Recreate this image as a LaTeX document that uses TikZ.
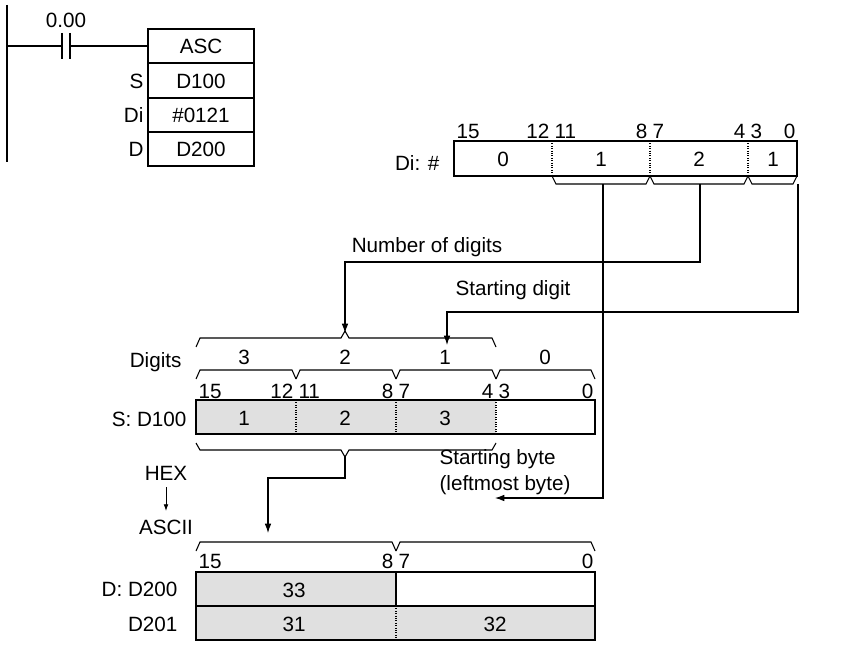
\documentclass[tikz,border=0pt]{standalone}
\usepackage{fontspec}
\setmainfont{Liberation Sans}
\usetikzlibrary{arrows.meta}
\begin{document}
\begin{tikzpicture}[x=0.75pt,y=-0.75pt,line width=0.8pt,
  t/.style={inner sep=0pt,font=\fontsize{15.5}{18}\selectfont},
  cell/.style={draw,line width=0.9pt},
  dv/.style={densely dotted,line width=0.8pt},
  gr/.style={fill=black!12},
  arr/.style={-{Latex[length=7pt,width=5pt]}},
  br/.style={line width=0.8pt}]
\useasboundingbox (0,0) rectangle (853,645);
% ladder
\draw[line width=1pt] (7,5) -- (7,162);
\draw (7,46) -- (62,46) (70,46) -- (148,46);
\draw[line width=1pt] (62,33) -- (62,59) (70,33) -- (70,59);
\node[t] (c0) at (66,20) {0.00};
\draw[cell] (148,29) rectangle (254,63) (148,63) rectangle (254,98) (148,98) rectangle (254,132) (148,132) rectangle (254,166);
\node[t] (asc) at (201,46) {ASC};
\node[t] (s1) at (201,81) {D100};
\node[t] (s2) at (201,115) {\#0121};
\node[t] (s3) at (201,149) {D200};
\node[t,anchor=east] (l1) at (144,81) {S};
\node[t,anchor=east] (l2) at (144,115) {Di};
\node[t,anchor=east] (l3) at (144,149) {D};
% Di box
\draw[cell] (454,141) rectangle (797,176);
\draw[dv] (552,141)--(552,176) (650,141)--(650,176) (748,141)--(748,176);
\node[t] (d0) at (503,159) {0};
\node[t] (d1) at (601,159) {1};
\node[t] (d2) at (699,159) {2};
\node[t] (d3) at (773,159) {1};
\node[t,anchor=east] (dil) at (440,163) {Di: \#};
\foreach \x/\l in {456/15,554/11,652/7,750/3}{\node[t,anchor=west] at (\x,131) {\l};}
\foreach \x/\l in {550/12,648/8,746/4,796/0}{\node[t,anchor=east] at (\x,131) {\l};}
\foreach \a/\b in {552/650,650/748,748/797}{\draw[br] (\a,176)--(\a+4,184)--(\b-4,184)--(\b,176);}
\coordinate (st1) at (603,184);
\coordinate (st2) at (700,184);
\coordinate (st3) at (798,184);
% number of digits
\node[t] (nod) at (427,247) {Number of digits};
\node[t] (sd) at (513,290) {Starting digit};
\coordinate (nA) at (345,333);
\coordinate (sA) at (447,345);
\draw[arr] (st2) |- (345,262) -- (nA);
\draw[arr] (st3) |- (447,312) -- (sA);
% digits
\draw[br] (196,347)--(200,338)--(341,338)--(345,331)--(349,338)--(492,338)--(496,347);
\node[t,anchor=east] (dig) at (182,362) {Digits};
\foreach \x/\l in {244/3,345/2,445/1,545/0}{\node[t] at (\x,357) {\l};}
\foreach \a/\b in {196/296,296/396,396/496,496/595}{\draw[br] (\a,379)--(\a+4,370)--(\b-4,370)--(\b,379);}
\foreach \x/\l in {198/15,298/11,398/7,498/3}{\node[t,anchor=west] at (\x,391) {\l};}
\foreach \x/\l in {294/12,394/8,494/4,594/0}{\node[t,anchor=east] at (\x,391) {\l};}
\fill[gr] (196,400) rectangle (496,434);
\draw[cell] (196,400) rectangle (595,434);
\draw[dv] (296,400)--(296,434) (396,400)--(396,434) (496,400)--(496,434);
\node[t] (v1) at (244,418) {1};
\node[t] (v2) at (345,418) {2};
\node[t] (v3) at (445,418) {3};
\node[t,anchor=east] (sl) at (187,419) {S: D100};
\draw[br] (196,443)--(200,450)--(341,450)--(345,457)--(349,450)--(492,450)--(496,443);
\coordinate (hb) at (345,457);
\coordinate (da) at (268,533);
\draw[arr] (hb) |- (268,478) -- (da);
\node[t,anchor=west,align=left] (sb) at (439,472) {Starting byte\\[1pt](leftmost byte)};
\coordinate (sbA) at (495,498);
\draw[arr] (st1) |- (sbA);
\node[t] (hex) at (166,473) {HEX};
\node[t] (asci) at (166,527) {ASCII};
\draw[-{Latex[length=5pt,width=3.5pt]},line width=0.6pt] (166,487) -- (166,511);
% D
\foreach \a/\b in {196/396,396/595}{\draw[br] (\a,551)--(\a+4,542)--(\b-4,542)--(\b,551);}
\foreach \x/\l in {198/15,398/7}{\node[t,anchor=west] at (\x,561) {\l};}
\foreach \x/\l in {394/8,594/0}{\node[t,anchor=east] at (\x,561) {\l};}
\fill[gr] (196,572) rectangle (396,606);
\fill[gr] (196,606) rectangle (595,640);
\draw[cell] (196,572) rectangle (595,606) (196,606) rectangle (595,640);
\draw[line width=0.8pt] (396,572)--(396,606);
\draw[dv] (396,606)--(396,640);
\node[t] (e1) at (294,590) {33};
\node[t] (e2) at (294,624) {31};
\node[t] (e3) at (495,624) {32};
\node[t,anchor=east] (dl1) at (178,589) {D: D200};
\node[t,anchor=east] (dl2) at (178,624) {D201};
\end{tikzpicture}
\end{document}
